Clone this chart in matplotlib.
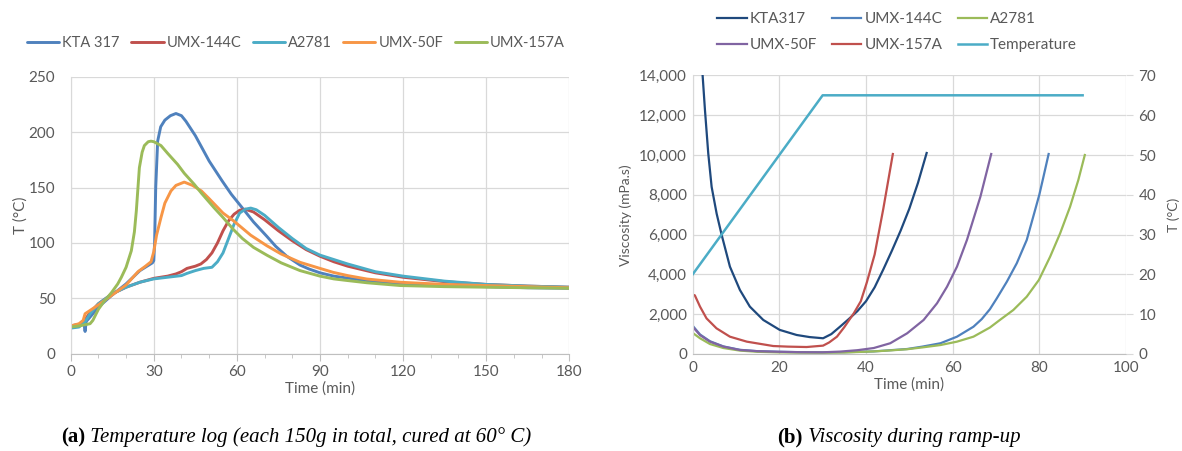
import matplotlib
matplotlib.use("Agg")
import matplotlib.pyplot as plt
from matplotlib.ticker import FuncFormatter, MultipleLocator
from matplotlib.offsetbox import TextArea, HPacker, AnchoredOffsetbox

# ---------------- data: (a) temperature log ----------------
series_a = ["KTA 317", "UMX-144C", "A2781", "UMX-50F", "UMX-157A"]
colors_a = ["#4F81BD", "#C0504D", "#4BACC6", "#F79646", "#9BBB59"]

t_kta = [0, 2, 4.8, 5.2, 5.6, 7, 10, 15, 20, 25, 29.5, 30, 30.3, 30.7, 31.4, 32.5, 34, 36, 38, 40,
         41.6, 45, 50, 54.7, 58, 62.5, 66, 70.8, 74, 78, 82.8, 86, 90, 95, 100.7, 110, 118.9, 135,
         150, 165, 180]
T_kta = [25, 26, 27, 20, 29, 33, 42, 53, 63, 75, 82, 84, 100, 150, 192, 205, 211, 215, 217, 215,
         210, 197, 174, 156, 144, 130, 119, 106, 97, 88, 80, 76.5, 73, 70, 68, 65, 63.5, 61.5,
         60.5, 59.5, 59]

t_144 = [0, 3, 5, 7, 10, 15, 20, 25, 30, 35, 38, 40, 42, 45, 47, 49, 51, 53, 55, 57, 59, 61, 63,
         66, 70, 75, 80, 85, 90, 95, 100, 110, 120, 135, 150, 165, 180]
T_144 = [25, 26, 30, 37, 45, 54, 60, 64.5, 68, 70, 72, 74, 77, 79, 81, 85, 91, 100, 111, 120, 126,
         129.5, 130.5, 128, 121, 111, 102, 94, 88, 83, 79, 73, 69, 65, 62.5, 61, 60]

t_a27 = [0, 3, 5, 7, 10, 15, 20, 25, 30, 35, 40, 42, 45, 48, 51, 53, 55, 57, 59, 61, 63, 65, 67,
         70, 75, 80, 85, 90, 95, 100, 110, 120, 135, 150, 165, 180]
T_a27 = [23, 24, 28, 36, 45, 54, 60, 64.5, 67.5, 69, 70.5, 72.5, 75, 77, 78, 83, 91, 104, 117, 127,
         130.5, 131.5, 130, 125, 114, 104, 95, 89, 85, 81, 74, 70, 65.5, 62.5, 61, 60]

t_50f = [0, 3, 4.5, 5.2, 7, 10, 15, 20, 24.3, 27, 29, 30, 31, 32.6, 34, 36.2, 38, 41, 44, 47.2, 50,
         55, 58.8, 65, 70.8, 76, 82.8, 90, 94.8, 100, 106.9, 118.9, 135, 150, 165, 180]
T_50f = [25, 27, 30, 36, 39, 44, 53, 62, 74, 79, 83, 92, 107, 123, 136, 147, 152, 155, 152, 147,
         140, 127, 120, 107, 97.5, 90, 82.5, 77, 73.4, 70.5, 67.4, 64.5, 62.5, 61.5, 60.5, 59.5]

t_157 = [0, 3, 5, 7, 8, 10, 12, 14.7, 17, 18.3, 20, 21.9, 23, 23.7, 24.8, 25.8, 26.6, 28, 29, 30,
         32.6, 35, 38.6, 41, 44.6, 47.2, 51.7, 55, 58.8, 62, 66, 70.8, 76, 82.8, 90, 95, 100, 107,
         119, 135, 150, 165, 180]
T_157 = [24, 25, 26, 27, 30, 40, 47, 55, 63, 69, 78, 93, 110, 129, 168, 182, 188, 191.5, 192,
         191.5, 188, 181, 171, 163, 153, 145, 132, 123, 112, 104, 96, 89, 82, 75, 70, 67.5, 66, 64,
         61.5, 60.5, 60, 59.5, 59]

times_a = [t_kta, t_144, t_a27, t_50f, t_157]
temps_a = [T_kta, T_144, T_a27, T_50f, T_157]

# ---------------- data: (b) viscosity during ramp-up ----------------
series_b = ["KTA317", "UMX-144C", "A2781", "UMX-50F", "UMX-157A"]
colors_b = ["#1F497D", "#4F81BD", "#9BBB59", "#8064A2", "#C0504D"]

tv_kta = [2.0, 2.3, 2.84, 3.6, 4.38, 5.54, 6.7, 8.6, 10.9, 13.2, 16.3, 20.1, 24, 27, 30.1, 32, 34,
          36, 38, 40, 42, 44, 46, 48, 50, 52, 54]
v_kta = [15000, 14000, 12260, 10080, 8400, 7050, 5980, 4390, 3220, 2380, 1710, 1210, 955, 850, 790,
         1000, 1370, 1750, 2150, 2650, 3350, 4250, 5200, 6200, 7300, 8600, 10100]

tv_144 = [0, 1.7, 4, 7.1, 10.9, 15, 20, 25, 30, 35, 41.8, 45, 49.5, 53, 57.2, 61, 64.8, 66.7, 68.6,
          70.2, 72.5, 74.8, 77.1, 78.6, 80, 80.9, 82.15]
v_144 = [1420, 980, 640, 380, 210, 140, 110, 90, 80, 90, 130, 180, 250, 370, 540, 870, 1370, 1750,
         2250, 2800, 3630, 4560, 5730, 6900, 8000, 8850, 10050]

tv_a27 = [0, 1.7, 4, 7.1, 10.9, 15, 20, 25, 30, 35, 41.8, 45, 49.5, 53, 57.2, 61, 64.8, 68.6, 70.9,
          74, 77.1, 79.9, 82.5, 84.8, 87.1, 89, 90.5]
v_a27 = [1060, 790, 500, 300, 170, 110, 80, 70, 65, 75, 130, 170, 240, 330, 450, 620, 870, 1330,
         1710, 2210, 2880, 3720, 4890, 6060, 7400, 8740, 10000]

tv_50f = [0, 1.7, 4, 7.1, 10.9, 15, 20, 25, 30, 34, 38, 41.8, 45.6, 49.5, 53.3, 56.4, 58.7, 61,
          63.3, 66.4, 68.9]
v_50f = [1370, 950, 620, 370, 200, 140, 110, 90, 85, 120, 190, 300, 540, 1040, 1710, 2550, 3380,
         4390, 5730, 7900, 10050]

tv_157 = [0, 0.5, 1.7, 3.2, 5.5, 8.6, 12.5, 18.6, 22, 26.3, 30.1, 31.5, 33.3, 35, 37.2, 38.8, 40.2,
          42, 44, 46.2]
v_157 = [2980, 2950, 2380, 1790, 1290, 870, 620, 400, 370, 350, 420, 580, 870, 1350, 2050, 2650,
         3600, 5000, 7300, 10050]

times_b = [tv_kta, tv_144, tv_a27, tv_50f, tv_157]
visc_b = [v_kta, v_144, v_a27, v_50f, v_157]

t_ramp = [0, 30, 90]
T_ramp = [20, 65, 65]
ramp_label = "Temperature"
ramp_color = "#4BACC6"

caption_a = ("(a)", " Temperature log (each 150g in total, cured at 60\u00b0 C)")
caption_b = ("(b)", " Viscosity during ramp-up")

# ---------------- styling ----------------
FONT = "Lato"
TXT = "#595959"
GRID = "#D9D9D9"
plt.rcParams["font.family"] = [FONT, "DejaVu Sans"]

fig = plt.figure(figsize=(11.82, 4.51), dpi=100)

# ---------- panel (a) ----------
ax1 = fig.add_axes([0.0598, 0.2160, 0.4218, 0.6133])
for t, T, c, lab in zip(times_a, temps_a, colors_a, series_a):
    ax1.plot(t, T, color=c, lw=2.1, label=lab, solid_joinstyle="round", solid_capstyle="round")
ax1.set_xlim(0, 180)
ax1.set_ylim(0, 250)
ax1.xaxis.set_major_locator(MultipleLocator(30))
ax1.xaxis.set_minor_locator(MultipleLocator(10))
ax1.yaxis.set_major_locator(MultipleLocator(50))
ax1.grid(True, which="major", color=GRID, lw=0.9)
ax1.set_axisbelow(True)
for s in ["top", "right"]:
    ax1.spines[s].set_visible(False)
ax1.spines["left"].set_color(GRID)
ax1.spines["bottom"].set_color("#BFBFBF")
ax1.tick_params(axis="x", which="major", length=5, color="#BFBFBF", labelsize=11,
                labelcolor=TXT, pad=3)
ax1.tick_params(axis="x", which="minor", length=3, color="#BFBFBF")
ax1.tick_params(axis="y", length=0, labelsize=11, labelcolor=TXT, pad=11)
ax1.set_xlabel("Time (min)", fontsize=11, color=TXT, labelpad=2)
ax1.set_ylabel("T (\u00b0C)", fontsize=11, color=TXT, labelpad=1)
ax1.legend(loc="center", bbox_to_anchor=(296 / 1182, 1 - 43 / 451), bbox_transform=fig.transFigure,
           ncol=5, frameon=False, fontsize=10.5, handlelength=2.2, handletextpad=0.2,
           columnspacing=0.8, labelcolor=TXT)

# ---------- panel (b) ----------
ax2 = fig.add_axes([0.5860, 0.2151, 0.3666, 0.6177])
lines = []
for t, v, c, lab in zip(times_b, visc_b, colors_b, series_b):
    ln, = ax2.plot(t, v, color=c, lw=1.6, label=lab, solid_joinstyle="round")
    lines.append(ln)
ax2.set_xlim(0, 100)
ax2.set_ylim(0, 14000)
ax2.xaxis.set_major_locator(MultipleLocator(20))
ax2.yaxis.set_major_locator(MultipleLocator(2000))
ax2.yaxis.set_major_formatter(FuncFormatter(lambda v, p: f"{int(v):,}"))
ax2.grid(True, color=GRID, lw=0.9)
ax2.set_axisbelow(True)
for s in ["top", "right"]:
    ax2.spines[s].set_visible(False)
ax2.spines["left"].set_color(GRID)
ax2.spines["bottom"].set_color("#BFBFBF")
ax2.tick_params(axis="both", length=0, labelsize=11, labelcolor=TXT)
ax2.tick_params(axis="x", pad=5)
ax2.tick_params(axis="y", pad=4)
ax2.set_xlabel("Time (min)", fontsize=11, color=TXT, labelpad=2)
ax2.set_ylabel("Viscosity (mPa.s)", fontsize=10, color=TXT, labelpad=5)

ax3 = ax2.twinx()
ln_t, = ax3.plot(t_ramp, T_ramp, color=ramp_color, lw=1.8, label=ramp_label)
ax3.set_ylim(0, 70)
ax3.yaxis.set_major_locator(MultipleLocator(10))
for s in ["top", "left", "bottom", "right"]:
    ax3.spines[s].set_visible(False)
ax3.tick_params(axis="y", length=5, color=GRID, labelsize=11, labelcolor=TXT, pad=4)
ax3.set_ylabel("T (\u00b0C)", fontsize=10, color=TXT, labelpad=8)

order = [lines[0], lines[3], lines[1], lines[4], lines[2], ln_t]
ax3.legend(order, [l.get_label() for l in order], loc="center",
           bbox_to_anchor=(897 / 1182, 1 - 32 / 451), bbox_transform=fig.transFigure,
           ncol=3, frameon=False, fontsize=11, handlelength=1.9, handletextpad=0.2,
           columnspacing=1.0, labelspacing=0.8, labelcolor=TXT)


# ---------- captions ----------
def caption(parts, xc, yc):
    ta1 = TextArea(parts[0], textprops=dict(family="Liberation Serif", weight="bold", size=15,
                                            color="black"))
    ta2 = TextArea(parts[1], textprops=dict(family="Liberation Serif", style="italic", size=15,
                                            color="black"))
    box = HPacker(children=[ta1, ta2], align="baseline", pad=0, sep=0)
    ab = AnchoredOffsetbox(loc="center", child=box, bbox_to_anchor=(xc, yc),
                           bbox_transform=fig.transFigure, frameon=False, pad=0, borderpad=0)
    fig.add_artist(ab)


caption(caption_a, 296 / 1182, 1 - 437 / 451)
caption(caption_b, 899 / 1182, 1 - 437 / 451)

fig.savefig("out.png", dpi=100)
